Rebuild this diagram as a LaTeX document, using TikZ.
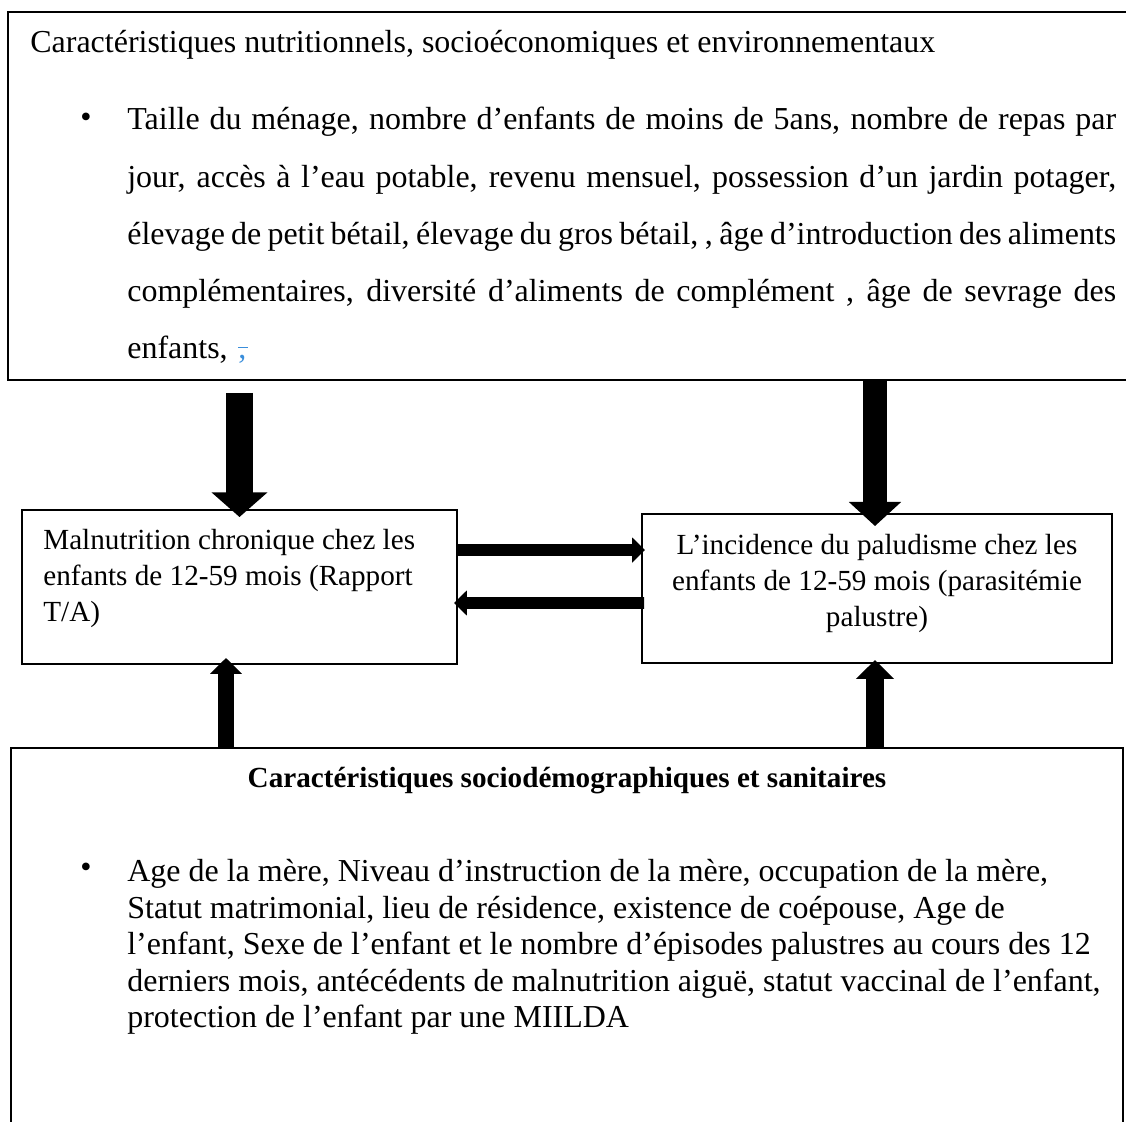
\documentclass[tikz,border=0pt]{standalone}
\usepackage{fontspec}
\setmainfont{Liberation Serif}
\usepackage{xcolor}
\usetikzlibrary{arrows.meta,fit,positioning}
\definecolor{ChgBlue}{HTML}{3A8EDB}
\newcommand{\fullLine}[1]{{\spaceskip=0.25em plus 1em minus 0.16em\makebox[\linewidth][s]{#1}}}
\tikzset{
  frameBox/.style={
    draw=black,
    line width=1.1pt,
    inner sep=0pt
  },
  topText/.style={
    inner sep=0pt,
    font=\fontsize{18.2pt}{32.6pt}\selectfont
  },
  midText/.style={
    inner sep=0pt,
    font=\fontsize{16.6pt}{20.5pt}\selectfont
  },
  lowText/.style={
    inner sep=0pt,
    font=\fontsize{18.2pt}{20.8pt}\selectfont
  },
  lowHead/.style={
    inner sep=0pt,
    font=\fontsize{16.6pt}{20.8pt}\selectfont\bfseries
  },
  fatArrowL/.style={
    line width=15.4pt,
    -{Triangle[length=14pt, width=31pt]}
  },
  fatArrowR/.style={
    line width=14.2pt,
    -{Triangle[length=13.7pt, width=29pt]}
  },
  thinArrow/.style={
    line width=6.8pt,
    -{Triangle[length=7.4pt, width=14pt]}
  },
  upArrowL/.style={
    line width=9pt,
    -{Triangle[length=9pt, width=17.6pt]}
  },
  upArrowR/.style={
    line width=10.8pt,
    -{Triangle[length=10.8pt, width=21pt]}
  }
}

\begin{document}
\begin{tikzpicture}[x=0.02cm, y=-0.02cm]
  \useasboundingbox (0,0) rectangle (1126,1122);
  \clip (0,0) rectangle (1126,1122);

  % boxes
  \node (topbox) [frameBox, fit={(8,12) (1160,380)}] {};
  \node (malnu) [frameBox, fit={(22,510) (457,664)}] {};
  \node (palu) [frameBox, fit={(642,514) (1112,663)}] {};
  \node (socio) [frameBox, fit={(11,748) (1123,1160)}] {};

  % top box text
  \node (topHead) [topText, anchor=base west] at (30,53)
    {Caractéristiques nutritionnels, socioéconomiques et environnementaux};
  \node (topDot) [topText, anchor=base west] at (80,128) {•};
  \node (topList) [topText, anchor=north west, text width=19.78cm, align=left] at (127,107) {
    \fullLine{Taille du ménage, nombre d’enfants de moins de 5ans, nombre de repas par}\\
    \fullLine{jour, accès à l’eau potable, revenu mensuel, possession d’un jardin potager,}\\
    \fullLine{élevage de petit bétail, élevage du gros bétail, , âge d’introduction des aliments}\\
    \fullLine{complémentaires, diversité d’aliments de complément , âge de sevrage des}\\
    enfants, \textcolor{ChgBlue}{\rlap{\rule[0.33em]{0.3em}{0.9pt}},}
  };

  % middle boxes text
  \node (malnuText) [midText, anchor=north west, align=left] at (43,529) {
    Malnutrition chronique chez les\\
    enfants de 12-59 mois (Rapport\\
    T/A)
  };
  \node (paluText) [midText, anchor=north, align=center] at (877,534) {
    L’incidence du paludisme chez les\\
    enfants de 12-59 mois (parasitémie\\
    palustre)
  };

  % bottom box text
  \node (socioHead) [lowHead, anchor=base] at (567,787)
    {Caractéristiques sociodémographiques et sanitaires};
  \node (socioDot) [lowText, anchor=base west] at (80,877) {•};
  \node (socioList) [lowText, anchor=north west, align=left] at (127,859) {
    Age de la mère, Niveau d’instruction de la mère, occupation de la mère,\\
    Statut matrimonial, lieu de résidence, existence de coépouse, Age de\\
    l’enfant, Sexe de l’enfant et le nombre d’épisodes palustres au cours des 12\\
    derniers mois, antécédents de malnutrition aiguë, statut vaccinal de l’enfant,\\
    protection de l’enfant par une MIILDA
  };

  % arrows
  \draw [fatArrowL] ([yshift=-0.24cm]topbox.south -| malnu.north) -- ([yshift=-0.16cm]malnu.north);
  \draw [fatArrowR] ([xshift=-0.04cm]topbox.south -| palu.north) -- ([xshift=-0.04cm, yshift=-0.26cm]palu.north);
  \draw [thinArrow] ([yshift=0.74cm]malnu.east) -- ([xshift=0.08cm, yshift=0.77cm]palu.west);
  \draw [thinArrow] ([xshift=0.06cm, yshift=-0.29cm]palu.west) -- ([xshift=-0.08cm, yshift=-0.32cm]malnu.east);
  \draw [upArrowL] ([xshift=-0.27cm]socio.north -| malnu.south) -- ([xshift=-0.27cm, yshift=0.14cm]malnu.south);
  \draw [upArrowR] ([xshift=-0.04cm]socio.north -| palu.south) -- ([xshift=-0.04cm, yshift=0.08cm]palu.south);
\end{tikzpicture}
\end{document}
